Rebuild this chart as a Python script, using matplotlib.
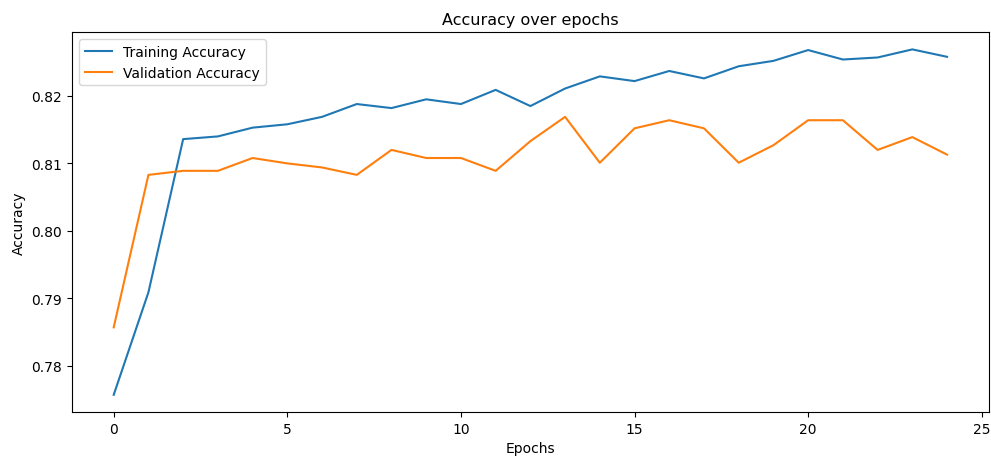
import matplotlib
matplotlib.use("Agg")
import matplotlib.pyplot as plt

epochs = list(range(25))
train_acc = [0.7757, 0.7909, 0.8136, 0.8140, 0.8153, 0.8158, 0.8169, 0.8188, 0.8182, 0.8195,
             0.8188, 0.8209, 0.8185, 0.8211, 0.8229, 0.8222, 0.8237, 0.8226, 0.8244, 0.8252,
             0.8268, 0.8254, 0.8257, 0.8269, 0.8258]
val_acc = [0.7857, 0.8083, 0.8089, 0.8089, 0.8108, 0.8100, 0.8094, 0.8083, 0.8120, 0.8108,
           0.8108, 0.8089, 0.8133, 0.8169, 0.8101, 0.8152, 0.8164, 0.8152, 0.8101, 0.8127,
           0.8164, 0.8164, 0.8120, 0.8139, 0.8113]

fig = plt.figure(figsize=(9.91, 4.6), dpi=100)
ax = fig.add_axes([0.0727, 0.102, 0.925, 0.826])
ax.plot(epochs, train_acc, label="Training Accuracy")
ax.plot(epochs, val_acc, label="Validation Accuracy")
ax.set_title("Accuracy over epochs", fontsize=11.5)
ax.set_xlabel("Epochs", fontsize=10)
ax.set_ylabel("Accuracy", fontsize=10)
ax.tick_params(labelsize=10)
ax.legend(loc="upper left", fontsize=10)
fig.savefig("out.png", dpi=100)
